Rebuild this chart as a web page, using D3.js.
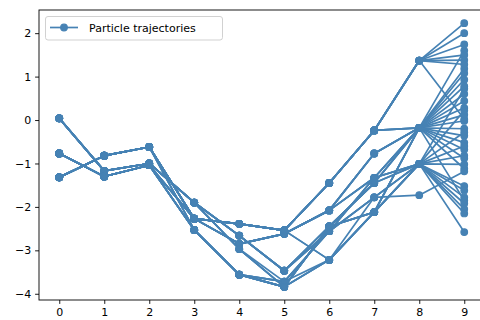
<!DOCTYPE html>
<html>
<head>
<meta charset="utf-8">
<script src="https://cdn.jsdelivr.net/npm/d3@7"></script>
<style>
  html, body { margin: 0; padding: 0; background: #ffffff; }
  svg { display: block; }
  text { font-family: "DejaVu Sans", sans-serif; }
</style>
</head>
<body>
<svg id="chart" width="480" height="320"></svg>
<script>
// Time steps along the x axis
const steps = [0, 1, 2, 3, 4, 5, 6, 7, 8, 9];
const xTicks = [0, 1, 2, 3, 4, 5, 6, 7, 8, 9];
const yTicks = [-4, -3, -2, -1, 0, 1, 2];

// Resampled particle histories for steps 0..8 (one row per shared history)
const histories = [
  [0.04, -1.17, -1.00, -1.90, -2.66, -3.47, -2.45, -1.45, -0.18],
  [0.04, -1.17, -1.00, -1.90, -2.97, -3.84, -3.22, -2.12, -1.01],
  [-0.77, -1.30, -1.04, -2.53, -3.56, -3.84, -2.45, -2.12, -0.18],
  [-1.32, -0.82, -0.62, -2.27, -2.39, -2.54, -1.45, -0.24, 1.37],
  [-1.32, -0.82, -0.62, -2.27, -2.39, -2.54, -1.45, -0.24, -0.18],
  [-0.77, -1.30, -1.04, -2.27, -2.85, -2.62, -2.08, -0.77, -0.18],
  [-1.32, -0.82, -0.62, -2.53, -3.56, -3.72, -2.56, -1.33, -1.01],
  [-0.77, -1.30, -1.04, -2.27, -2.85, -2.62, -2.08, -1.33, -0.18],
  [0.04, -1.17, -1.00, -1.90, -2.97, -3.72, -3.22, -1.78, -1.73],
  [0.04, -1.17, -1.00, -1.90, -2.66, -3.47, -2.56, -1.78, -1.01],
  [-1.32, -0.82, -0.62, -2.27, -2.39, -2.54, -3.22, -2.12, -1.01],
  [-0.77, -1.30, -1.04, -2.53, -3.56, -3.84, -2.45, -1.45, -1.01]
];

// Final (step 9) positions of the particles that share each history above
const finalPositions = [
  [1.60, 0.60, -0.52],
  [0.72, -0.82, -1.92],
  [1.18, 0.28, -0.88, -1.85],
  [2.23, 2.00, 1.74, 1.50, 1.38, 1.28, 0.02],
  [1.08, 0.44, -0.20],
  [0.93, 0.12, -0.68, -1.12],
  [0.22, -1.02, -2.05],
  [0.78, -0.02, -0.36],
  [-1.18],
  [-0.28, -1.52, -2.58],
  [-0.60, -1.62],
  [-1.78, -2.15]
];

// One full trajectory per particle
const trajectories = [];
histories.forEach((h, i) => {
  finalPositions[i].forEach(v => trajectories.push(h.concat([v])));
});

const color = "#4682b4";
const svg = d3.select("#chart");

const plot = { left: 39, right: 484.5, top: 10, bottom: 300 };

const x = d3.scaleLinear()
  .domain([d3.min(steps) - 0.45, d3.max(steps) + 0.45])
  .range([plot.left, plot.right]);

const allVals = trajectories.flat();
const yMin = d3.min(allVals), yMax = d3.max(allVals);
const pad = (yMax - yMin) * 0.05;
const y = d3.scaleLinear()
  .domain([yMin - pad, yMax + pad])
  .range([plot.bottom, plot.top]);

const fmt = d => (d < 0 ? "\u2212" + Math.abs(d) : String(d));

// Trajectories: each drawn as a line with circle markers
const line = d3.line().x((d, i) => x(steps[i])).y(d => y(d));
const g = svg.append("g");
trajectories.forEach(tr => {
  const tg = g.append("g");
  tg.append("path")
    .attr("d", line(tr))
    .attr("fill", "none")
    .attr("stroke", color)
    .attr("stroke-width", 1.7)
    .attr("stroke-linejoin", "round")
    .attr("stroke-linecap", "square");
  tg.selectAll("circle")
    .data(tr)
    .join("circle")
    .attr("cx", (d, i) => x(steps[i]))
    .attr("cy", d => y(d))
    .attr("r", 3.35)
    .attr("fill", color)
    .attr("stroke", color)
    .attr("stroke-width", 1.1);
});

// Axes
const xAxis = d3.axisBottom(x).tickValues(xTicks).tickSize(3.9).tickPadding(3.9)
  .tickFormat(d => String(d));
const yAxis = d3.axisLeft(y).tickValues(yTicks).tickSize(3.9).tickPadding(3.9)
  .tickFormat(fmt);

const gx = svg.append("g").attr("transform", `translate(0,${plot.bottom})`).call(xAxis);
const gy = svg.append("g").attr("transform", `translate(${plot.left},0)`).call(yAxis);
[gx, gy].forEach(a => {
  a.select(".domain").remove();
  a.selectAll(".tick line").attr("stroke", "#000").attr("stroke-width", 0.9);
  a.selectAll(".tick text").attr("fill", "#000").attr("font-size", "11px")
    .attr("font-family", "DejaVu Sans, sans-serif");
});

// Frame
svg.append("rect")
  .attr("x", plot.left).attr("y", plot.top)
  .attr("width", plot.right - plot.left).attr("height", plot.bottom - plot.top)
  .attr("fill", "none").attr("stroke", "#000").attr("stroke-width", 0.9);

// Legend
const lg = svg.append("g");
lg.append("rect")
  .attr("x", 45.5).attr("y", 16.5).attr("width", 177).attr("height", 23.5)
  .attr("rx", 2.5).attr("fill", "#ffffff").attr("fill-opacity", 0.8)
  .attr("stroke", "#cccccc").attr("stroke-width", 0.9);
lg.append("line")
  .attr("x1", 50).attr("x2", 78).attr("y1", 27.5).attr("y2", 27.5)
  .attr("stroke", color).attr("stroke-width", 1.7);
lg.append("circle")
  .attr("cx", 64).attr("cy", 27.5).attr("r", 3.35)
  .attr("fill", color).attr("stroke", color).attr("stroke-width", 1.1);
lg.append("text")
  .attr("x", 89).attr("y", 31.8)
  .attr("font-size", "11px").attr("fill", "#000")
  .text("Particle trajectories");
</script>
</body>
</html>
